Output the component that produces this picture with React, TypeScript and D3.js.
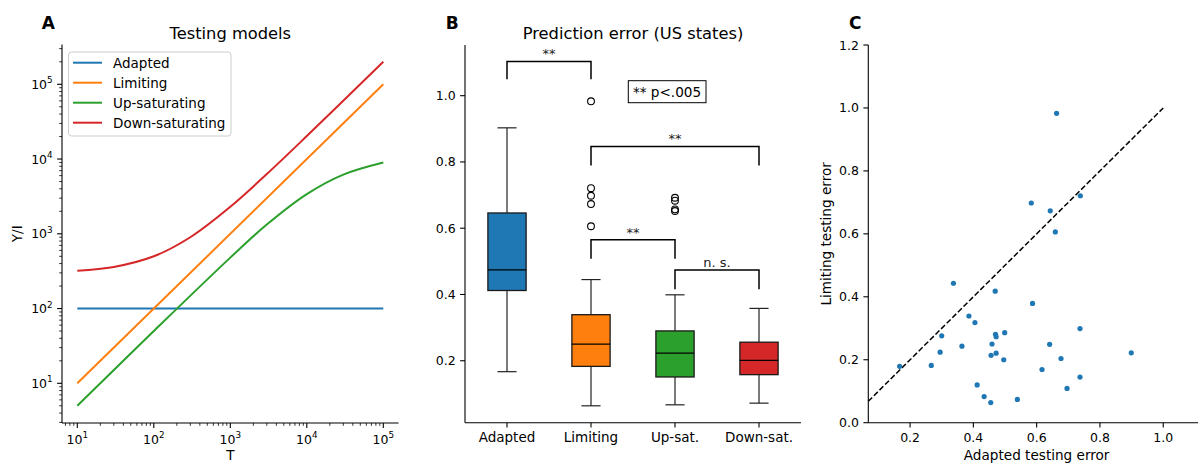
import React from 'react';
import * as d3 from 'd3';

// ---------- Panel A data ----------
const adaptedT = [10, 100000];
const adaptedY = [100, 100];
const limitingT = [10, 100000];
const limitingY = [10, 100000];
const upSatT = [10, 100, 1000, 3000, 10000, 30000, 100000];
const upSatY = [5, 50, 480, 1330, 3400, 6200, 9000];
const downSatT = [10, 30, 100, 300, 1000, 3000, 10000, 100000];
const downSatY = [320, 360, 500, 900, 2300, 6300, 20300, 200000];
const modelNames = ['Adapted', 'Limiting', 'Up-saturating', 'Down-saturating'];
const logTicks = [10, 100, 1000, 10000, 100000];
const logTickExp = ['1', '2', '3', '4', '5'];

// ---------- Panel B data ----------
const categories = ['Adapted', 'Limiting', 'Up-sat.', 'Down-sat.'];
const q1 = [0.412, 0.183, 0.151, 0.158];
const medians = [0.474, 0.25, 0.223, 0.201];
const q3 = [0.646, 0.339, 0.29, 0.256];
const whiskerLow = [0.167, 0.064, 0.067, 0.072];
const whiskerHigh = [0.903, 0.445, 0.399, 0.358];
const outliers = [[], [0.983, 0.721, 0.698, 0.673, 0.606], [0.692, 0.683, 0.657, 0.652], []];
const bracketFrom = [0, 1, 1, 2];
const bracketTo = [1, 3, 2, 3];
const bracketLow = [1.05, 0.789, 0.508, 0.416];
const bracketHigh = [1.103, 0.847, 0.565, 0.474];
const bracketLabels = ['**', '**', '**', 'n. s.'];
const boxTicks = [0.2, 0.4, 0.6, 0.8, 1.0];

// ---------- Panel C data ----------
const adaptedErr = [0.663, 0.738, 0.583, 0.643, 0.659, 0.337, 0.469, 0.587, 0.386, 0.405, 0.737, 0.499, 0.47, 0.472, 0.3, 0.364, 0.459, 0.641, 0.295, 0.472, 0.456, 0.899, 0.496, 0.677, 0.167, 0.267, 0.617, 0.737, 0.412, 0.696, 0.434, 0.539, 0.455];
const limitingErr = [0.983, 0.721, 0.698, 0.673, 0.606, 0.443, 0.418, 0.379, 0.339, 0.318, 0.299, 0.286, 0.281, 0.273, 0.276, 0.243, 0.25, 0.249, 0.224, 0.221, 0.214, 0.222, 0.2, 0.204, 0.179, 0.182, 0.169, 0.145, 0.12, 0.109, 0.083, 0.074, 0.064];
const scatterXTicks = [0.2, 0.4, 0.6, 0.8, 1.0];
const scatterYTicks = [0.0, 0.2, 0.4, 0.6, 0.8, 1.0, 1.2];

const COLORS = ['#1f77b4', '#ff7f0e', '#2ca02c', '#d62728'];
const FONT = 'DejaVu Sans';

export default function App() {
  // ---- Panel A scales ----
  const ax = d3.scaleLog().domain([Math.pow(10, 0.8), Math.pow(10, 5.2)]).range([62, 398.6]);
  const ay = d3.scaleLog().domain([Math.pow(10, 0.469), Math.pow(10, 5.531)]).range([423, 44.6]);
  const lineGen = d3.line<[number, number]>().x(d => ax(d[0])).y(d => ay(d[1])).curve(d3.curveCatmullRom.alpha(0.5));
  const series: [number[], number[]][] = [
    [adaptedT, adaptedY],
    [limitingT, limitingY],
    [upSatT, upSatY],
    [downSatT, downSatY],
  ];
  const minorX: number[] = [];
  const minorY: number[] = [];
  for (let e = 0; e <= 5; e++) {
    for (let m = 2; m <= 9; m++) {
      const v = m * Math.pow(10, e);
      if (v >= ax.domain()[0] && v <= ax.domain()[1]) minorX.push(v);
      if (v >= ay.domain()[0] && v <= ay.domain()[1]) minorY.push(v);
    }
  }

  // ---- Panel B scales ----
  const bx = d3.scaleLinear().domain([0.5, 4.5]).range([465, 801]);
  const by = d3.scaleLinear().domain([0.013, 1.153]).range([422.7, 45]);
  const boxW = 0.455;

  // ---- Panel C scales ----
  const cx = d3.scaleLinear().domain([0.068, 1.132]).range([868.3, 1205]);
  const cy = d3.scaleLinear().domain([0, 1.2]).range([422.7, 45]);

  const tickLen = 4.9;
  const minorLen = 2.8;

  return (
    <svg width={1198} height={463} style={{ position: 'absolute', left: 0, top: 0, background: '#fff' }} fontFamily={FONT}>
      <rect x={0} y={0} width={1198} height={463} fill="#fff" />
      {/* Panel letters */}
      <text x={41.7} y={28.5} fontSize={17} fontWeight="bold">A</text>
      <text x={445.7} y={28.5} fontSize={17} fontWeight="bold">B</text>
      <text x={849} y={28.5} fontSize={17} fontWeight="bold">C</text>

      {/* ================= Panel A ================= */}
      <text x={(62 + 398.6) / 2} y={39} fontSize={16.3} textAnchor="middle">Testing models</text>
      {series.map((s, i) => (
        <path key={i} d={lineGen(s[0].map((t, j) => [t, s[1][j]] as [number, number])) || ''} fill="none" stroke={COLORS[i]} strokeWidth={2} />
      ))}
      {/* axes */}
      <line x1={62} x2={62} y1={44.6} y2={423} stroke="#000" strokeWidth={1.1} />
      <line x1={62} x2={398.6} y1={423} y2={423} stroke="#000" strokeWidth={1.1} />
      {logTicks.map((t, i) => (
        <g key={'ax' + i}>
          <line x1={ax(t)} x2={ax(t)} y1={423} y2={423 + tickLen} stroke="#000" strokeWidth={1.1} />
          <text x={ax(t)} y={423 + 20.5} fontSize={12.5} textAnchor="middle">10<tspan dy={-5.5} fontSize={8.8}>{logTickExp[i]}</tspan></text>
        </g>
      ))}
      {minorX.map((t, i) => (
        <line key={'mx' + i} x1={ax(t)} x2={ax(t)} y1={423} y2={423 + minorLen} stroke="#000" strokeWidth={0.8} />
      ))}
      {logTicks.map((t, i) => (
        <g key={'ay' + i}>
          <line x1={62} x2={62 - tickLen} y1={ay(t)} y2={ay(t)} stroke="#000" strokeWidth={1.1} />
          <text x={62 - 9.3} y={ay(t) + 4.5} fontSize={12.5} textAnchor="end">10<tspan dy={-5.5} fontSize={8.8}>{logTickExp[i]}</tspan></text>
        </g>
      ))}
      {minorY.map((t, i) => (
        <line key={'my' + i} x1={62} x2={62 - minorLen} y1={ay(t)} y2={ay(t)} stroke="#000" strokeWidth={0.8} />
      ))}
      <text x={230.3} y={460} fontSize={13.6} textAnchor="middle">T</text>
      <text transform={`translate(22,${(44.6 + 423) / 2}) rotate(-90)`} fontSize={13.6} textAnchor="middle">Y/I</text>
      {/* legend */}
      <rect x={68.5} y={52} width={162.5} height={84} rx={3} fill="#fff" fillOpacity={0.8} stroke="#ccc" strokeWidth={1} />
      {modelNames.map((n, i) => (
        <g key={'lg' + i}>
          <line x1={73} x2={102} y1={62.7 + 20 * i} y2={62.7 + 20 * i} stroke={COLORS[i]} strokeWidth={2} />
          <text x={113} y={62.7 + 20 * i + 4.8} fontSize={13.5}>{n}</text>
        </g>
      ))}

      {/* ================= Panel B ================= */}
      <text x={633} y={39} fontSize={16.3} textAnchor="middle">Prediction error (US states)</text>
      {categories.map((c, i) => {
        const xc = bx(i + 1);
        const hw = (boxW / 2) * (bx(1) - bx(0));
        const cw = hw / 2;
        return (
          <g key={'box' + i}>
            <line x1={xc} x2={xc} y1={by(q3[i])} y2={by(whiskerHigh[i])} stroke="#222" strokeWidth={1.2} />
            <line x1={xc} x2={xc} y1={by(q1[i])} y2={by(whiskerLow[i])} stroke="#222" strokeWidth={1.2} />
            <line x1={xc - cw} x2={xc + cw} y1={by(whiskerHigh[i])} y2={by(whiskerHigh[i])} stroke="#222" strokeWidth={1.2} />
            <line x1={xc - cw} x2={xc + cw} y1={by(whiskerLow[i])} y2={by(whiskerLow[i])} stroke="#222" strokeWidth={1.2} />
            <rect x={xc - hw} y={by(q3[i])} width={2 * hw} height={by(q1[i]) - by(q3[i])} fill={COLORS[i]} stroke="#1a1a1a" strokeWidth={1.3} />
            <line x1={xc - hw} x2={xc + hw} y1={by(medians[i])} y2={by(medians[i])} stroke="#000" strokeWidth={1.3} />
            {outliers[i].map((o, j) => (
              <circle key={j} cx={xc} cy={by(o)} r={3.4} fill="none" stroke="#000" strokeWidth={1.1} />
            ))}
          </g>
        );
      })}
      {bracketFrom.map((a, i) => {
        const x1 = bx(a + 1);
        const x2 = bx(bracketTo[i] + 1);
        const yl = by(bracketLow[i]);
        const yh = by(bracketHigh[i]);
        return (
          <g key={'br' + i}>
            <path d={`M${x1},${yl}V${yh}H${x2}V${yl}`} fill="none" stroke="#000" strokeWidth={1.5} />
            <text x={(x1 + x2) / 2} y={yh - 3.2} fontSize={13} textAnchor="middle" fill="#222">{bracketLabels[i]}</text>
          </g>
        );
      })}
      <rect x={628.3} y={80.7} width={77.7} height={22} fill="#fff" stroke="#000" strokeWidth={1} />
      <text x={667} y={96.5} fontSize={13.6} textAnchor="middle">** p&lt;.005</text>
      <line x1={465} x2={465} y1={45} y2={422.7} stroke="#000" strokeWidth={1.1} />
      <line x1={465} x2={801} y1={422.7} y2={422.7} stroke="#000" strokeWidth={1.1} />
      {boxTicks.map((t, i) => (
        <g key={'byt' + i}>
          <line x1={465} x2={465 - tickLen} y1={by(t)} y2={by(t)} stroke="#000" strokeWidth={1.1} />
          <text x={465 - 9.3} y={by(t) + 4.5} fontSize={12.5} textAnchor="end">{t.toFixed(1)}</text>
        </g>
      ))}
      {categories.map((c, i) => (
        <g key={'bxt' + i}>
          <line x1={bx(i + 1)} x2={bx(i + 1)} y1={422.7} y2={422.7 + tickLen} stroke="#000" strokeWidth={1.1} />
          <text x={bx(i + 1)} y={441.5} fontSize={13.5} textAnchor="middle">{c}</text>
        </g>
      ))}

      {/* ================= Panel C ================= */}
      <line x1={cx(0.068)} y1={cy(0.068)} x2={cx(1.0)} y2={cy(1.0)} stroke="#000" strokeWidth={1.5} strokeDasharray="5.5,2.4" />
      {adaptedErr.map((a, i) => (
        <circle key={'pt' + i} cx={cx(a)} cy={cy(limitingErr[i])} r={2.6} fill={COLORS[0]} />
      ))}
      <line x1={868.3} x2={868.3} y1={45} y2={422.7} stroke="#000" strokeWidth={1.1} />
      <line x1={868.3} x2={1205} y1={422.7} y2={422.7} stroke="#000" strokeWidth={1.1} />
      {scatterYTicks.map((t, i) => (
        <g key={'cyt' + i}>
          <line x1={868.3} x2={868.3 - tickLen} y1={cy(t)} y2={cy(t)} stroke="#000" strokeWidth={1.1} />
          <text x={868.3 - 9.3} y={cy(t) + 4.5} fontSize={12.5} textAnchor="end">{t.toFixed(1)}</text>
        </g>
      ))}
      {scatterXTicks.map((t, i) => (
        <g key={'cxt' + i}>
          <line x1={cx(t)} x2={cx(t)} y1={422.7} y2={422.7 + tickLen} stroke="#000" strokeWidth={1.1} />
          <text x={cx(t)} y={441.5} fontSize={12.5} textAnchor="middle">{t.toFixed(1)}</text>
        </g>
      ))}
      <text x={(868.3 + 1205) / 2} y={459.5} fontSize={13.6} textAnchor="middle">Adapted testing error</text>
      <text transform={`translate(831,${(45 + 422.7) / 2}) rotate(-90)`} fontSize={13.6} textAnchor="middle">Limiting testing error</text>
    </svg>
  );
}
